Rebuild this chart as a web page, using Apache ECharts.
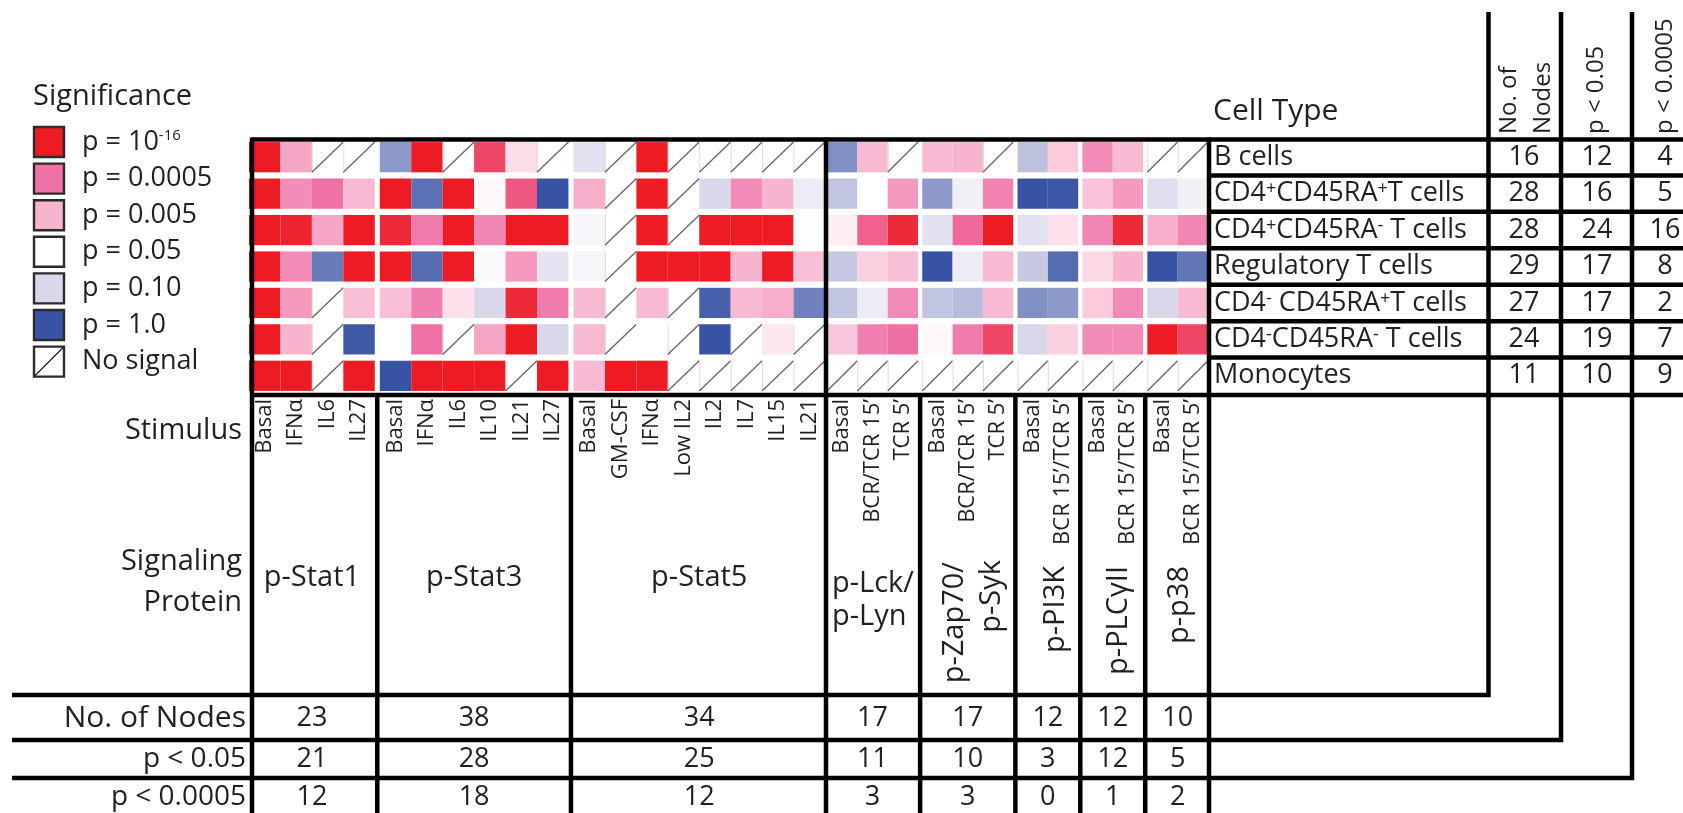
<!DOCTYPE html>
<html>
<head>
<meta charset="utf-8">
<title>Signaling node significance by cell type</title>
<script src="https://cdn.jsdelivr.net/npm/echarts@6.0.0/dist/echarts.min.js"></script>
<style>
html, body { margin: 0; padding: 0; background: #fff; }
#chart { width: 1683px; height: 813px; }
</style>
</head>
<body>
<div id="chart"></div>
<script>
// ---------- categories ----------
const proteins = ['p-Stat1', 'p-Stat3', 'p-Stat5', 'p-Lck/\np-Lyn', 'p-Zap70/\np-Syk', 'p-PI3K', 'p-PLCγII', 'p-p38'];
const stimuli = [
  ['Basal', 'IFNα', 'IL6', 'IL27'],
  ['Basal', 'IFNα', 'IL6', 'IL10', 'IL21', 'IL27'],
  ['Basal', 'GM-CSF', 'IFNα', 'Low IL2', 'IL2', 'IL7', 'IL15', 'IL21'],
  ['Basal', 'BCR/TCR 15’', 'TCR 5’'],
  ['Basal', 'BCR/TCR 15’', 'TCR 5’'],
  ['Basal', 'BCR 15’/TCR 5’'],
  ['Basal', 'BCR 15’/TCR 5’'],
  ['Basal', 'BCR 15’/TCR 5’']
];
const cellTypes = ['B cells', 'CD4+CD45RA+T cells', 'CD4+CD45RA- T cells', 'Regulatory T cells',
  'CD4- CD45RA+T cells', 'CD4-CD45RA- T cells', 'Monocytes'];

// ---------- colour key: p-value stops, their colours and labels ----------
const STOP_P = [1.0, 0.10, 0.05, 0.005, 0.0005, 1e-16];
const STOP_COLORS = ['#3853a4', '#d9d8eb', '#ffffff', '#f7b4cf', '#ef72a7', '#ed1c24'];
const legendTitle = 'Significance';
const legendLabels = ['p = 10{sup|-16}', 'p = 0.0005', 'p = 0.005', 'p = 0.05', 'p = 0.10', 'p = 1.0', 'No signal'];

// ---------- p-values per cell type, one per stimulus column (null = no signal) ----------
const N = null;
const pBCells = [
  1e-16, 0.003, N, N,
  0.3, 1e-16, N, 2e-10, 0.018, N,
  0.085, N, 1e-16, N, N, N, N, N,
  0.35, 0.006, N,
  0.006, 0.005, N,
  0.15, 0.01,
  0.0012, 0.006,
  N, N];
const pCD4posRApos = [
  1e-16, 0.0013, 0.0005, 0.006,
  1e-16, 0.6, 1e-16, 0.04, 8e-8, 1.0,
  0.004, N, 1e-16, N, 0.1, 0.0012, 0.005, 0.07,
  0.14, 0.05, 0.002,
  0.3, 0.065, 0.0009,
  1.0, 0.95,
  0.008, 0.002,
  0.09, 0.065];
const pCD4posRAneg = [
  1e-16, 1e-15, 0.003, 1e-16,
  1e-14, 0.0007, 1e-16, 0.001, 1e-16, 1e-16,
  0.06, N, 1e-16, N, 1e-16, 1e-16, 1e-16, 0.052,
  0.03, 2e-6, 1e-14,
  0.085, 3e-5, 1e-16,
  0.085, 0.02,
  0.001, 1e-14,
  0.004, 0.001];
const pTreg = [
  1e-16, 0.0013, 0.5, 1e-16,
  1e-16, 0.65, 1e-16, 0.055, 0.002, 0.08,
  0.06, N, 1e-16, 1e-16, 1e-16, 0.005, 1e-16, 0.007,
  0.13, 0.012, 0.007,
  1.0, 0.07, 0.006,
  0.13, 0.65,
  0.015, 0.005,
  1.0, 0.55];
const pCD4negRApos = [
  1e-16, 0.002, N, 0.007,
  0.007, 0.0008, 0.02, 0.1, 1e-14, 0.0007,
  0.006, N, 0.006, N, 0.8, 0.006, 0.004, 0.45,
  0.14, 0.07, 0.0012,
  0.14, 0.16, 0.006,
  0.35, 0.3,
  0.01, 0.0012,
  0.1, 0.006];
const pCD4negRAneg = [
  1e-16, 0.005, N, 0.9,
  0.05, 0.0004, N, 0.003, 1e-16, 0.1,
  0.006, N, 0.05, N, 1.0, N, 0.025, N,
  0.009, 0.0008, 0.0003,
  0.04, 0.0007, 2e-10,
  0.1, 0.012,
  0.0012, 0.0012,
  1e-16, 2e-10];
const pMonocytes = [
  1e-16, 1e-16, N, 1e-16,
  1.0, 1e-16, 1e-16, 1e-16, N, 1e-16,
  0.006, 1e-16, 1e-16, N, N, N, N, N,
  N, N, N,
  N, N, N,
  N, N,
  N, N,
  N, N];
const rowsP = [pBCells, pCD4posRApos, pCD4posRAneg, pTreg, pCD4negRApos, pCD4negRAneg, pMonocytes];

// ---------- summary counts ----------
const summaryRowLabels = ['No. of Nodes', 'p < 0.05', 'p < 0.0005'];
const cellHeaderLabels = ['No. of\nNodes', 'p < 0.05', 'p < 0.0005'];
const proteinNodes = [23, 38, 34, 17, 17, 12, 12, 10];
const proteinSig05 = [21, 28, 25, 11, 10, 3, 12, 5];
const proteinSig0005 = [12, 18, 12, 3, 3, 0, 1, 2];
const cellNodes = [16, 28, 28, 29, 27, 24, 11];
const cellSig05 = [12, 16, 24, 17, 17, 19, 10];
const cellSig0005 = [4, 5, 16, 8, 2, 7, 9];

// ---------- helpers ----------
const FONT = "'Open Sans', 'DejaVu Sans', sans-serif";
const INK = '#231f20';
const ROW_PAD = 0.085;
const RULE = 4.5;

// position of a p-value on the colour key (0 = p 1.0 ... 5 = p 1e-16), log-interpolated
function keyPosition(p) {
  const l = Math.log10(p);
  for (let i = 0; i < STOP_P.length - 1; i++) {
    const a = Math.log10(STOP_P[i]), b = Math.log10(STOP_P[i + 1]);
    if (l >= b) return i + (a - l) / (a - b);
  }
  return STOP_P.length - 1;
}

// lay columns of a block of protein groups along one value axis
function buildSection(groupIdx, gapU, firstCol) {
  const cols = [], groups = [];
  let x = 0, col = firstCol;
  groupIdx.forEach((g, k) => {
    if (k > 0) x += gapU;
    const start = x;
    stimuli[g].forEach(label => { cols.push({ start: x, label, col: col++ }); x += 1; });
    groups.push({ g, start, end: x });
  });
  return { cols, groups, total: x, gap: gapU };
}
const sections = [buildSection([0, 1, 2], 0.16, 0), buildSection([3, 4, 5, 6, 7], 0.14, 18)];

function sectionData(sec) {
  const out = [];
  rowsP.forEach((row, r) => {
    sec.cols.forEach(c => {
      const p = row[c.col];
      out.push(p == null ? [c.start, r, 0, 1] : [c.start, r, keyPosition(p), 0]);
    });
  });
  return out;
}

function renderCell(params, api) {
  const x0 = api.value(0), r = api.value(1), noSignal = api.value(3);
  const a = api.coord([x0, r + ROW_PAD]);
  const b = api.coord([x0 + 1, r + 1 - ROW_PAD]);
  const x = Math.min(a[0], b[0]), y = Math.min(a[1], b[1]);
  const w = Math.abs(b[0] - a[0]), h = Math.abs(b[1] - a[1]);
  if (noSignal) {
    return {
      type: 'group', children: [
        { type: 'line', shape: { x1: x + 0.5, y1: y, x2: x + 0.5, y2: y + h }, style: { stroke: '#dcdcdc', lineWidth: 1 } },
        { type: 'line', shape: { x1: x, y1: y + h, x2: x + w, y2: y }, style: { stroke: '#6a6a6a', lineWidth: 1.4 } }
      ]
    };
  }
  return { type: 'rect', shape: { x, y, width: w, height: h }, style: { fill: api.visual('color') } };
}

const supify = s => s.replace(/(CD4|RA)([+-])/g, '$1{sup|$2}');
const cellLabels = cellTypes.map(supify);

const chart = echarts.init(document.getElementById('chart'), null, { renderer: 'canvas' });

const grids = [
  { left: 249, top: 139, width: 576, height: 255, containLabel: false, outerBoundsMode: 'none' },
  { left: 827, top: 139, width: 381, height: 255, containLabel: false, outerBoundsMode: 'none' }
];

const xAxes = sections.map((sec, si) => ({
  type: 'value', gridIndex: si, min: 0, max: sec.total, position: 'bottom',
  axisLine: { show: false }, axisTick: { show: false }, splitLine: { show: false },
  axisLabel: {
    customValues: sec.cols.map(c => c.start + 0.5),
    formatter: v => { const c = sec.cols.find(c => Math.abs(c.start + 0.5 - v) < 1e-6); return c ? c.label : ''; },
    rotate: 90, margin: 5, fontSize: 22, fontFamily: FONT, color: INK
  }
}));

const yAxes = sections.map((sec, si) => ({
  type: 'value', gridIndex: si, min: 0, max: rowsP.length, inverse: true,
  position: si === 1 ? 'right' : 'left',
  axisLine: { show: false }, axisTick: { show: false }, splitLine: { show: false },
  axisLabel: si === 1 ? {
    customValues: cellTypes.map((_, i) => i + 0.5),
    formatter: v => cellLabels[Math.round(v - 0.5)] || '',
    margin: 6, align: 'left', fontSize: 27, fontFamily: FONT, color: INK,
    rich: { sup: { fontSize: 18, fontFamily: FONT, color: INK, verticalAlign: 'top' } }
  } : { show: false }
}));

chart.setOption({
  animation: false,
  backgroundColor: '#ffffff',
  grid: grids,
  xAxis: xAxes,
  yAxis: yAxes,
  visualMap: {
    type: 'continuous', show: false, min: 0, max: STOP_P.length - 1, dimension: 2,
    seriesIndex: [0, 1], inRange: { color: STOP_COLORS }
  },
  series: sections.map((sec, si) => ({
    type: 'custom', xAxisIndex: si, yAxisIndex: si, silent: true,
    encode: { x: 0, y: 1 },
    renderItem: renderCell,
    data: sectionData(sec)
  }))
});

// ---------- frame, key, headers and summary tables ----------
const G = [];
const Z = 50;
function line(x1, y1, x2, y2, w) {
  G.push({ type: 'line', z: Z, silent: true, shape: { x1, y1, x2, y2 }, style: { stroke: '#000', lineWidth: w || RULE } });
}
function poly(points) {
  G.push({ type: 'polyline', z: Z, silent: true, shape: { points }, style: { stroke: '#000', lineWidth: RULE, fill: null, lineJoin: 'miter' } });
}
function text(x, y, str, opt) {
  const o = Object.assign({ fontSize: 28, align: 'left', verticalAlign: 'middle', rotation: 0 }, opt || {});
  G.push({
    type: 'text', z: Z + 1, silent: true, x, y, rotation: o.rotation,
    style: {
      text: str, fill: INK, fontFamily: FONT, fontSize: o.fontSize, align: o.align,
      verticalAlign: o.verticalAlign, lineHeight: o.lineHeight, rich: o.rich
    }
  });
}
const xpix = (si, v) => chart.convertToPixel({ xAxisIndex: si }, v);
const ypix = v => chart.convertToPixel({ yAxisIndex: 0 }, v);

const TOP = ypix(0), BOTTOM = ypix(rowsP.length);
const LEFT_EDGE = xpix(0, 0) + 3;
const RIGHT_EDGE = xpix(1, sections[1].total) + 1;
const PAGE_W = 1683, PAGE_H = 813;
const SUM_LINES = [695, 740, 778];           // tops of the three summary rows
const SUM_TEXT_Y = [718, 759, 797];
const CELL_COL_LINES = [1488.5, 1561, 1632];  // count columns beside the cell types
const CELL_NUM_X = [1524, 1597, 1665];

// outer frame of the map
line(LEFT_EDGE, TOP + 0.5, PAGE_W, TOP + 0.5);
line(LEFT_EDGE, BOTTOM + 1, PAGE_W, BOTTOM + 1);
line(LEFT_EDGE, TOP - 1.5, LEFT_EDGE, PAGE_H);
line(RIGHT_EDGE, TOP - 1.5, RIGHT_EDGE, PAGE_H);
const midDivider = (xpix(0, sections[0].total) + xpix(1, 0)) / 2;
line(midDivider, TOP - 1.5, midDivider, PAGE_H);

// group dividers below the map
sections.forEach((sec, si) => {
  for (let k = 0; k < sec.groups.length - 1; k++) {
    const x = xpix(si, sec.groups[k].end + sec.gap / 2);
    line(x, BOTTOM, x, PAGE_H);
  }
});

// cell type rows
for (let r = 1; r < rowsP.length; r++) line(RIGHT_EDGE, ypix(r), PAGE_W, ypix(r));

// L-shaped summary rules
SUM_LINES.forEach((y, i) => poly([[12, y], [CELL_COL_LINES[i], y], [CELL_COL_LINES[i], 12]]));

// significance key
text(33, 97, legendTitle, { fontSize: 29 });
legendLabels.forEach((lbl, i) => {
  const y = 127 + i * 36.6;
  const isNoSignal = i === legendLabels.length - 1;
  G.push({
    type: 'rect', z: Z, silent: true, shape: { x: 34, y, width: 30, height: 30 },
    style: { fill: isNoSignal ? '#fff' : STOP_COLORS[STOP_COLORS.length - 1 - i], stroke: '#2b2b2b', lineWidth: 2.4 }
  });
  if (isNoSignal) line(35, y + 29, 63, y + 1, 1.2);
  text(82, y + 15, lbl, {
    fontSize: 27,
    rich: { sup: { fontSize: 15, fontFamily: FONT, fill: INK, verticalAlign: 'top' } }
  });
});

// row headers on the left
text(242, 431, 'Stimulus', { fontSize: 29, align: 'right' });
text(242, 582, 'Signaling\nProtein', { fontSize: 29, align: 'right', lineHeight: 41 });

// signaling protein names
sections.forEach((sec, si) => {
  sec.groups.forEach(gr => {
    const lines = proteins[gr.g].split('\n');
    const x0 = xpix(si, gr.start), x1 = xpix(si, gr.end), cx = (x0 + x1) / 2;
    if (gr.g <= 2) {
      text(cx, 578, lines[0], { fontSize: 29, align: 'center' });
    } else if (gr.g === 3) {
      text(x0 + 5, 584, lines[0], { fontSize: 29 });
      text(x0 + 5, 617, lines[1], { fontSize: 29 });
    } else if (gr.g === 4) {
      text(cx - 13, 562, lines[0], { fontSize: 29, align: 'right', rotation: Math.PI / 2 });
      text(cx + 24, 560, lines[1], { fontSize: 29, align: 'right', rotation: Math.PI / 2 });
    } else {
      const dx = { 5: 8, 6: 6, 7: 2 }[gr.g];
      text(cx + dx, 566, lines[0], { fontSize: 29, align: 'right', rotation: Math.PI / 2 });
    }
    // per-protein counts
    [proteinNodes, proteinSig05, proteinSig0005].forEach((arr, k) => {
      text(cx, SUM_TEXT_Y[k], String(arr[gr.g]), { fontSize: 27, align: 'center' });
    });
  });
});

// summary row labels
summaryRowLabels.forEach((lbl, k) => text(246, SUM_TEXT_Y[k], lbl, { fontSize: k === 0 ? 30 : 28, align: 'right' }));

// cell type header and count columns
text(1213, 111, 'Cell Type', { fontSize: 30 });
const hdr = cellHeaderLabels[0].split('\n');
text(1509, 134, hdr[0], { fontSize: 24, rotation: Math.PI / 2 });
text(1543, 134, hdr[1], { fontSize: 24, rotation: Math.PI / 2 });
text(1596, 134, cellHeaderLabels[1], { fontSize: 24, rotation: Math.PI / 2 });
text(1665, 134, cellHeaderLabels[2], { fontSize: 24, rotation: Math.PI / 2 });
[cellNodes, cellSig05, cellSig0005].forEach((arr, k) => {
  arr.forEach((v, r) => text(CELL_NUM_X[k], ypix(r + 0.5), String(v), { fontSize: 27, align: 'center' }));
});

chart.setOption({ graphic: { elements: G } });
</script>
</body>
</html>
